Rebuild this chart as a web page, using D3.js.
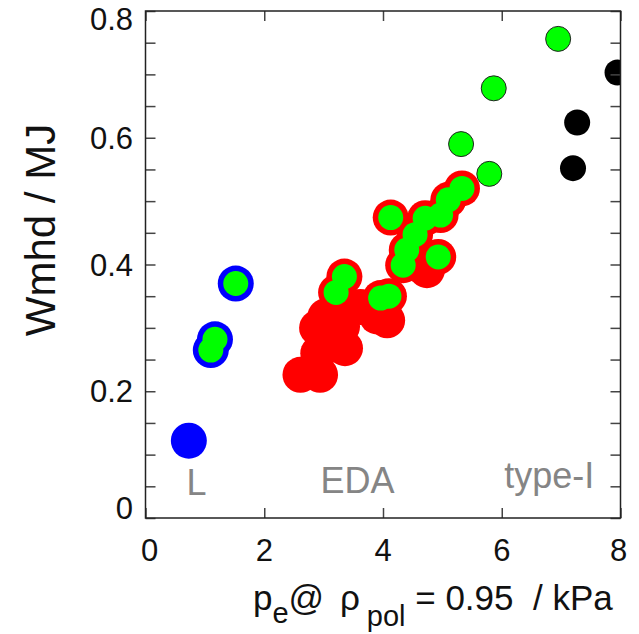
<!DOCTYPE html>
<html><head><meta charset="utf-8">
<script src="https://cdn.jsdelivr.net/npm/d3@7"></script>
<style>body{margin:0;background:#fff}svg{display:block}</style>
</head><body>
<svg id="c" width="639" height="634"></svg>
<script>
// ---- data ----
const xTickValues = [0, 2, 4, 6, 8];
const yTickValues = [0, 0.2, 0.4, 0.6, 0.8];
const yMinorTicks = d3.range(0, 0.8001, 0.05);
// L-mode (blue), filled
const lMode = [[0.73, 0.122]];
// L-mode with green marker on top
const lModeGreen = [[1.52, 0.370], [1.17, 0.282], [1.10, 0.265]];
// EDA (red), filled
const eda = [[2.61, 0.226], [2.94, 0.226], [2.91, 0.260], [3.36, 0.268], [3.00, 0.310],
             [2.89, 0.300], [3.03, 0.318], [3.31, 0.302], [3.22, 0.323], [3.62, 0.333],
             [3.90, 0.318], [4.07, 0.312], [4.74, 0.391], [4.66, 0.397]];
// EDA with green marker on top
const edaGreen = [[3.35, 0.381], [3.21, 0.356], [3.96, 0.347], [4.10, 0.350],
                  [4.13, 0.474], [4.34, 0.399], [4.40, 0.423], [4.54, 0.447],
                  [4.71, 0.473], [4.97, 0.478], [5.10, 0.502], [5.33, 0.520], [4.93, 0.412]];
// type-I ELMy (black)
const typeI = [[7.95, 0.703], [7.27, 0.624], [7.20, 0.552]];
// green-only markers
const greenOnly = [[6.95, 0.756], [5.865, 0.678], [5.315, 0.590], [5.79, 0.543]];
// regime labels
const regimeLabels = [{t: "L", x: 0.86, y: 0.036}, {t: "EDA", x: 3.57, y: 0.039}, {t: "type-I", x: 6.80, y: 0.047}];

// ---- layout ----
const svg = d3.select("#c");
const L = 145.5, R = 620.5, T = 11, B = 518;
const x = d3.scaleLinear().domain([0, 8]).range([L, R]);
const y = d3.scaleLinear().domain([0, 0.8]).range([B, T]);
const font = "'Liberation Sans', Arial, sans-serif";

svg.append("defs").append("clipPath").attr("id", "plotclip")
  .append("rect").attr("x", L).attr("y", T).attr("width", R - L).attr("height", B - T);

// points
const gPts = svg.append("g").attr("clip-path", "url(#plotclip)");
function dots(data, r, fill, stroke, sw) {
  gPts.selectAll(null).data(data).enter().append("circle")
    .attr("cx", d => x(d[0])).attr("cy", d => y(d[1])).attr("r", r)
    .attr("fill", fill).attr("stroke", stroke || "none").attr("stroke-width", sw || 0);
}
dots(eda, 18, "#ff0000");
dots(edaGreen, 18, "#ff0000");
dots(lMode, 18, "#0000ff");
dots(lModeGreen, 18, "#0000ff");
dots(typeI, 13, "#000000");
dots(greenOnly, 12.5, "#00ff00", "#222", 1);
dots(edaGreen, 12.5, "#00ff00");
dots(lModeGreen, 12.5, "#00ff00");

// regime labels
svg.append("g").selectAll("text").data(regimeLabels).enter().append("text")
  .attr("x", d => x(d.x)).attr("y", d => y(d.y))
  .attr("text-anchor", "middle").attr("font-family", font).attr("font-size", 36)
  .attr("fill", "#858585").text(d => d.t);

// axes with inward ticks
const tickLen = 10, tickCol = "#444";
const axB = svg.append("g").attr("transform", `translate(0,${B})`)
  .call(d3.axisBottom(x).tickValues(xTickValues).tickSize(-tickLen).tickFormat(""));
const axT = svg.append("g").attr("transform", `translate(0,${T})`)
  .call(d3.axisTop(x).tickValues(xTickValues).tickSize(-tickLen).tickFormat(""));
const axL = svg.append("g").attr("transform", `translate(${L},0)`)
  .call(d3.axisLeft(y).tickValues(yMinorTicks).tickSize(-tickLen).tickFormat(""));
const axR = svg.append("g").attr("transform", `translate(${R},0)`)
  .call(d3.axisRight(y).tickValues(yMinorTicks).tickSize(-tickLen).tickFormat(""));
[axB, axT, axL, axR].forEach(a => {
  a.select(".domain").remove();
  a.selectAll("line").attr("stroke", tickCol).attr("stroke-width", 1.5);
});
svg.append("rect").attr("x", L).attr("y", T).attr("width", R - L).attr("height", B - T)
  .attr("fill", "none").attr("stroke", "#222").attr("stroke-width", 1.5);

// tick labels
svg.append("g").selectAll("text").data(xTickValues).enter().append("text")
  .attr("x", (d, i) => x(d) + (i === 0 ? 4 : i === xTickValues.length - 1 ? -2 : 0))
  .attr("y", 561).attr("text-anchor", "middle")
  .attr("font-family", font).attr("font-size", 31).attr("fill", "#111").text(d => d);
svg.append("g").selectAll("text").data(yTickValues).enter().append("text")
  .attr("x", 133).attr("y", (d, i) => y(d) + 11 + (i === 0 ? -10 : i === yTickValues.length - 1 ? 8 : 0))
  .attr("text-anchor", "end")
  .attr("font-family", font).attr("font-size", 31).attr("fill", "#111").text(d => d === 0 ? "0" : d.toFixed(1));

// axis titles
svg.append("text").attr("transform", "translate(55,230) rotate(-90)")
  .attr("text-anchor", "middle").attr("font-family", font).attr("font-size", 42)
  .attr("fill", "#111").text("Wmhd / MJ");

const xt = svg.append("text").attr("x", 253).attr("y", 610)
  .attr("font-family", font).attr("font-size", 35).attr("fill", "#111")
  .style("white-space", "pre");
xt.append("tspan").text("p");
xt.append("tspan").attr("font-size", 29).attr("dy", 13).text("e");
xt.append("tspan").attr("dy", -13).text("@ ");
xt.append("tspan").attr("dx", 6).text("\u03c1");
xt.append("tspan").attr("font-size", 29).attr("dy", 16).attr("dx", 7).text("pol");
xt.append("tspan").attr("dy", -16).text(" = 0.95  / kPa");
</script>
</body></html>
